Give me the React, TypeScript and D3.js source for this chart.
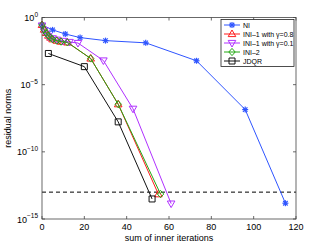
import { useRef, useEffect } from 'react'
import * as d3 from 'd3'

// sum of inner iterations vs residual norm, one pair of arrays per method
const niX = [0, 5, 11, 18, 30, 49, 73, 96, 115]
const niY = [0.28, 0.12, 0.059, 0.032, 0.019, 0.013, 6e-4, 1.4e-7, 1.5e-14]

const ini08X = [0, 1, 2, 3, 4, 5, 7, 9, 12, 23, 36, 55]
const ini08Y = [0.28, 0.126, 0.071, 0.045, 0.032, 0.024, 0.019, 0.016, 0.014, 8.9e-4, 3.5e-7, 7e-14]

const ini01X = [0, 1, 2, 3, 5, 7, 10, 13, 17, 29, 43, 61]
const ini01Y = [0.25, 0.11, 0.063, 0.04, 0.028, 0.022, 0.018, 0.015, 0.0126, 6.3e-4, 1.6e-7, 1.4e-14]

const ini2X = [0, 1, 2, 3, 4, 5, 7, 9, 12, 23, 36, 56]
const ini2Y = [0.28, 0.126, 0.071, 0.045, 0.032, 0.024, 0.019, 0.016, 0.014, 8.9e-4, 3.5e-7, 7.2e-14]

const jdqrX = [3, 20, 36, 52]
const jdqrY = [2.1e-3, 2.2e-4, 1.7e-8, 3.1e-14]

const tolerance = 1e-13
const xTicks = [0, 20, 40, 60, 80, 100, 120]
const yTickExps = [0, -5, -10, -15]

const seriesNames = ['NI', 'INI\u20131 with \u03b3=0.8', 'INI\u20131 with \u03b3=0.1', 'INI\u20132', 'JDQR']

type Marker = 'star' | 'up' | 'down' | 'diamond' | 'square'

export default function App() {
  const svgRef = useRef<SVGSVGElement>(null)

  useEffect(() => {
    if (!svgRef.current) return
    const svg = d3.select(svgRef.current)
    svg.selectAll('*').remove()

    const width = 327
    const height = 247
    const margin = { top: 17.5, right: 31, bottom: 28, left: 42 }
    const w = width - margin.left - margin.right
    const h = height - margin.top - margin.bottom
    const font = 'Helvetica, Arial, "Liberation Sans", sans-serif'

    svg.attr('width', width).attr('height', height)
    svg.append('rect').attr('width', width).attr('height', height).attr('fill', '#fff')

    const g = svg.append('g').attr('transform', `translate(${margin.left},${margin.top})`)

    const x = d3.scaleLinear().domain([0, 120]).range([0, w])
    const y = d3.scaleLog().domain([1e-15, 1]).range([h, 0])

    const series = [
      { name: seriesNames[0], xs: niX, ys: niY, color: '#2f55ff', marker: 'star' as Marker },
      { name: seriesNames[1], xs: ini08X, ys: ini08Y, color: '#ff1a1a', marker: 'up' as Marker },
      { name: seriesNames[2], xs: ini01X, ys: ini01Y, color: '#b030ff', marker: 'down' as Marker },
      { name: seriesNames[3], xs: ini2X, ys: ini2Y, color: '#22a812', marker: 'diamond' as Marker },
      { name: seriesNames[4], xs: jdqrX, ys: jdqrY, color: '#111', marker: 'square' as Marker },
    ]

    const drawMarker = (sel: d3.Selection<SVGGElement, unknown, null, undefined>, m: Marker, color: string, cx: number, cy: number) => {
      if (m === 'star') {
        const s = 3
        const p = sel.append('g').attr('stroke', color).attr('stroke-width', 1.2)
        p.append('line').attr('x1', cx - s).attr('x2', cx + s).attr('y1', cy).attr('y2', cy)
        p.append('line').attr('x1', cx).attr('x2', cx).attr('y1', cy - s).attr('y2', cy + s)
        p.append('line').attr('x1', cx - s * 0.75).attr('x2', cx + s * 0.75).attr('y1', cy - s * 0.75).attr('y2', cy + s * 0.75)
        p.append('line').attr('x1', cx - s * 0.75).attr('x2', cx + s * 0.75).attr('y1', cy + s * 0.75).attr('y2', cy - s * 0.75)
        return
      }
      let pts: [number, number][] = []
      if (m === 'up') pts = [[cx, cy - 4], [cx + 3.8, cy + 2.6], [cx - 3.8, cy + 2.6]]
      if (m === 'down') pts = [[cx, cy + 4], [cx + 3.8, cy - 2.6], [cx - 3.8, cy - 2.6]]
      if (m === 'diamond') pts = [[cx, cy - 3.6], [cx + 3.2, cy], [cx, cy + 3.6], [cx - 3.2, cy]]
      if (m === 'square') pts = [[cx - 3, cy - 3], [cx + 3, cy - 3], [cx + 3, cy + 3], [cx - 3, cy + 3]]
      sel.append('polygon')
        .attr('points', pts.map(p => p.join(',')).join(' '))
        .attr('fill', 'none')
        .attr('stroke', color)
        .attr('stroke-width', 1)
    }

    // axis ticks (inward, matlab style) on all four sides
    const frame = g.append('g').attr('stroke', '#444').attr('stroke-width', 0.8)
    xTicks.forEach(t => {
      frame.append('line').attr('x1', x(t)).attr('x2', x(t)).attr('y1', h).attr('y2', h - 3)
      frame.append('line').attr('x1', x(t)).attr('x2', x(t)).attr('y1', 0).attr('y2', 3)
    })
    yTickExps.forEach(e => {
      const yy = y(Math.pow(10, e))
      frame.append('line').attr('x1', 0).attr('x2', 3).attr('y1', yy).attr('y2', yy)
      frame.append('line').attr('x1', w).attr('x2', w - 3).attr('y1', yy).attr('y2', yy)
    })

    // tolerance line
    g.append('line')
      .attr('x1', 0).attr('x2', w)
      .attr('y1', y(tolerance)).attr('y2', y(tolerance))
      .attr('stroke', '#000').attr('stroke-width', 1).attr('stroke-dasharray', '4,3')

    const line = d3.line<[number, number]>().x(d => x(d[0])).y(d => y(d[1]))

    series.forEach(s => {
      const pts = s.xs.map((v, i) => [v, s.ys[i]] as [number, number])
      g.append('path').datum(pts).attr('d', line).attr('fill', 'none').attr('stroke', s.color).attr('stroke-width', 1)
      const mg = g.append('g')
      pts.forEach(p => drawMarker(mg, s.marker, s.color, x(p[0]), y(p[1])))
    })

    // box
    g.append('rect').attr('width', w).attr('height', h).attr('fill', 'none').attr('stroke', '#444').attr('stroke-width', 0.8)

    // tick labels
    g.append('g').selectAll('text').data(xTicks).join('text')
      .attr('x', d => x(d)).attr('y', h + 11)
      .attr('text-anchor', 'middle')
      .attr('font-family', font).attr('font-size', 9)
      .text(d => d)

    const yl = g.append('g').selectAll('text').data(yTickExps).join('text')
      .attr('x', -4).attr('y', d => y(Math.pow(10, d)) + 3.5)
      .attr('text-anchor', 'end')
      .attr('font-family', font).attr('font-size', 9)
    yl.append('tspan').text('10')
    yl.append('tspan').attr('dy', -4.5).attr('font-size', 6.5).text(d => (d === 0 ? '0' : '\u2212' + -d))

    // axis titles
    g.append('text')
      .attr('x', w / 2).attr('y', h + 21.5)
      .attr('text-anchor', 'middle')
      .attr('font-family', font).attr('font-size', 9)
      .text('sum of inner iterations')
    g.append('text')
      .attr('transform', `translate(${-31},${h / 2}) rotate(-90)`)
      .attr('text-anchor', 'middle')
      .attr('font-family', font).attr('font-size', 9)
      .text('residual norms')

    // legend
    const lx = 221 - margin.left
    const ly = 19.5 - margin.top
    const lg = g.append('g').attr('transform', `translate(${lx},${ly})`)
    lg.append('rect').attr('width', 73).attr('height', 47).attr('fill', '#fff').attr('stroke', '#222').attr('stroke-width', 0.8)
    series.forEach((s, i) => {
      const yy = 5.5 + i * 9
      lg.append('line').attr('x1', 3).attr('x2', 19).attr('y1', yy).attr('y2', yy).attr('stroke', s.color).attr('stroke-width', 1)
      drawMarker(lg, s.marker, s.color, 11, yy)
      lg.append('text').attr('x', 22).attr('y', yy + 2.5)
        .attr('font-family', font).attr('font-size', 7)
        .text(s.name)
    })
  }, [])

  return <svg ref={svgRef} style={{ position: 'absolute', left: 0, top: 0 }} />
}
